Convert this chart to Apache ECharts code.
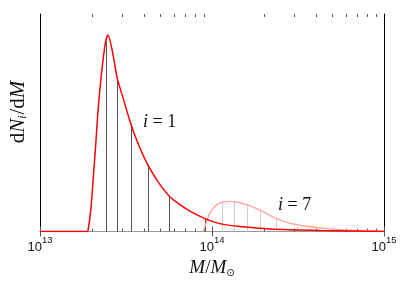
<!DOCTYPE html>
<html><head><meta charset="utf-8">
<script src="https://cdn.jsdelivr.net/npm/echarts@6/dist/echarts.min.js"></script>
<style>html,body{margin:0;padding:0;background:#fff}#c{width:405px;height:283px}</style>
</head><body><div id="c"></div>
<script>
// i = 1 mass function (mass in solar masses, dN/dM in arbitrary units)
var massI1 = [1e13, 1.87e13, 1.9e13, 1.971e13, 2.041e13, 2.108e13, 2.174e13, 2.254e13, 2.334e13, 2.41e13, 2.485e13, 2.633e13, 2.81e13, 3.076e13, 3.37e13, 3.76e13, 4.23e13, 4.85e13, 5.65e13, 6.51e13, 7.45e13, 9.1e13, 1.11e14, 1.46e14, 2.17e14, 4.25e14, 1e15];
var dndmI1 = [0, 0, 1, 20.7, 54, 87, 121, 151, 174, 191, 197, 181, 154, 131, 108, 86, 67, 50, 35.5, 27, 20.5, 13, 8, 5, 2.5, 1, 0];
// i = 7 mass function
var massI7 = [8.9e13, 9.31e13, 9.73e13, 1.04e14, 1.137e14, 1.273e14, 1.392e14, 1.591e14, 1.82e14, 2.08e14, 2.378e14, 2.718e14, 3.108e14, 3.553e14, 4.853e14, 6.34e14, 8.29e14, 1e15];
var dndmI7 = [0, 10, 18.7, 25.3, 29.3, 30.3, 29.7, 27, 23, 18, 13, 9.3, 7, 5.3, 2.7, 1.3, 0.7, 0.3];
// vertical drop lines (bin edges)
var dropMassI1 = [2.43e13, 2.81e13, 3.37e13, 4.23e13, 5.65e13, 9.1e13];
var dropHeightI1 = [191, 154, 108, 67, 35.5, 13];
var dropMassI7 = [1.148e14, 1.348e14, 1.591e14, 1.901e14, 2.345e14, 3.108e14];
var dropHeightI7 = [29.5, 30, 27, 21.5, 13.5, 7];
// minor tick positions
var minorTickMass = [2e13,3e13,4e13,5e13,6e13,7e13,8e13,9e13,2e14,3e14,4e14,5e14,6e14,7e14,8e14,9e14];
var xMin = 1e13, xMax = 1e15, yMax = 218;

function zip(a, b) { return a.map(function (v, k) { return [v, b[k]]; }); }

var chart = echarts.init(document.getElementById('c'), null, {renderer: 'canvas'});

function dropSeries(mass, h, color, z) {
  return {
    type: 'custom', z: z, silent: true,
    data: zip(mass, h),
    renderItem: function (params, api) {
      var p0 = api.coord([api.value(0), 0]);
      var p1 = api.coord([api.value(0), api.value(1)]);
      return {type: 'line', shape: {x1: Math.round(p0[0]) + 0.5, y1: p0[1], x2: Math.round(p0[0]) + 0.5, y2: p1[1]},
        style: {stroke: color, lineWidth: 1}};
    }
  };
}
function tickSeries(atTop) {
  return {
    type: 'custom', z: 1, silent: true,
    data: minorTickMass.map(function (m) { return [m, atTop ? yMax : 0]; }),
    renderItem: function (params, api) {
      var p = api.coord([api.value(0), api.value(1)]);
      var x = Math.round(p[0]) + 0.5;
      return {type: 'line', shape: {x1: x, y1: p[1], x2: x, y2: p[1] + (atTop ? 3 : -3)},
        style: {stroke: '#555', lineWidth: 1}};
    }
  };
}

var serif = '"Liberation Serif", "DejaVu Serif", serif';
var sans = '"Liberation Sans", Arial, sans-serif';

chart.setOption({
  animation: false,
  backgroundColor: '#fff',
  grid: {left: 40, right: 21, top: 14, bottom: 51},
  xAxis: [{
    type: 'log', logBase: 10, min: xMin, max: xMax, interval: 1,
    position: 'bottom',
    axisLine: {show: true, lineStyle: {color: '#888', width: 1}},
    axisTick: {show: true, inside: true, length: 5, lineStyle: {color: '#555'}},
    splitLine: {show: false},
    axisLabel: {
      margin: 4,
      formatter: function (v) { return '{a|10}{b|' + Math.round(Math.log10(v)) + '}'; },
      rich: {
        a: {fontFamily: sans, fontSize: 13, color: '#111', lineHeight: 18, verticalAlign: 'bottom'},
        b: {fontFamily: sans, fontSize: 9.5, color: '#111', lineHeight: 18, verticalAlign: 'top'}
      }
    },
    name: '{i|M}{n|/}{i|M}{s|⊙}',
    nameLocation: 'middle', nameGap: 22,
    nameTextStyle: {
      rich: {
        i: {fontFamily: serif, fontStyle: 'italic', fontSize: 19, color: '#111'},
        n: {fontFamily: serif, fontSize: 19, color: '#111'},
        s: {fontFamily: '"DejaVu Sans", sans-serif', fontSize: 10, color: '#111', verticalAlign: 'bottom', padding: [10, 0, 0, 0]}
      }
    }
  }, {
    type: 'log', logBase: 10, min: xMin, max: xMax, interval: 1,
    position: 'top',
    axisLine: {show: true, lineStyle: {color: '#999', width: 1}},
    axisTick: {show: true, inside: true, length: 5, lineStyle: {color: '#555'}},
    axisLabel: {show: false},
    splitLine: {show: false}
  }],
  yAxis: [{
    type: 'value', min: 0, max: yMax,
    axisLine: {show: true, lineStyle: {color: '#000', width: 1}},
    axisTick: {show: false}, axisLabel: {show: false}, splitLine: {show: false}
  }, {
    type: 'value', min: 0, max: yMax, position: 'right',
    axisLine: {show: true, onZero: false, lineStyle: {color: '#000', width: 1}},
    axisTick: {show: false}, axisLabel: {show: false}, splitLine: {show: false}
  }],
  series: [
    dropSeries(dropMassI7, dropHeightI7, '#cfcfcf', 2),
    dropSeries(dropMassI1, dropHeightI1, '#555', 3),
    tickSeries(false), tickSeries(true),
    {type: 'line', data: zip(massI7, dndmI7), showSymbol: false, smooth: 0.4, z: 4,
      lineStyle: {color: '#ffa3a3', width: 1.4}},
    {type: 'line', data: zip(massI1, dndmI1), showSymbol: false, smooth: 0.25, z: 5,
      lineStyle: {color: '#ff0000', width: 1.5}}
  ],
  graphic: [
    {type: 'text', x: 18, y: 112, rotation: Math.PI / 2, style: {
      text: '{d|d}{i|N}{s|i}{n|/d}{i|M}', align: 'center', verticalAlign: 'middle',
      rich: {
        d: {fontFamily: serif, fontSize: 21, fill: '#111'},
        n: {fontFamily: serif, fontSize: 21, fill: '#111'},
        i: {fontFamily: serif, fontStyle: 'italic', fontSize: 21, fill: '#111'},
        s: {fontFamily: serif, fontStyle: 'italic', fontSize: 12, fill: '#111', verticalAlign: 'bottom', padding: [8, 1, 0, 0]}
      }}},
    {type: 'text', left: 143, top: 113, style: {
      text: '{i|i}{n| = 1}',
      rich: {i: {fontFamily: serif, fontStyle: 'italic', fontSize: 18, fill: '#111'},
             n: {fontFamily: serif, fontSize: 18, fill: '#111'}}}},
    {type: 'text', left: 278, top: 196, style: {
      text: '{i|i}{n| = 7}',
      rich: {i: {fontFamily: serif, fontStyle: 'italic', fontSize: 18, fill: '#111'},
             n: {fontFamily: serif, fontSize: 18, fill: '#111'}}}}
  ]
});
</script></body></html>
